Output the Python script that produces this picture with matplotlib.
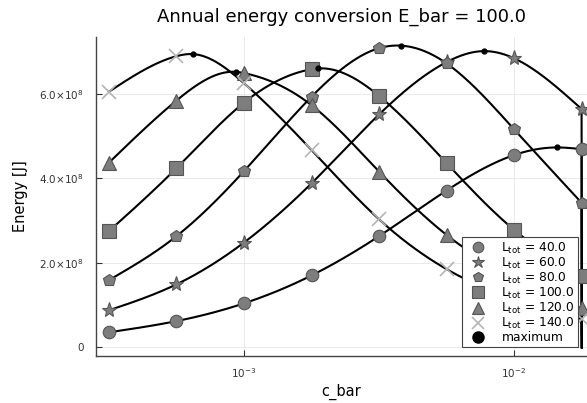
import numpy as np
import matplotlib
matplotlib.use("Agg")
import matplotlib.pyplot as plt
from matplotlib.lines import Line2D

# c_bar grid where markers sit
c_bar = [3.162e-4, 5.623e-4, 1.0e-3, 1.778e-3, 3.162e-3, 5.623e-3, 1.0e-2, 1.778e-2]
# energy cuts to zero just past the last grid point
cutoff_c = 1.782e-2

L_tot = [40.0, 60.0, 80.0, 100.0, 120.0, 140.0]

# energy in units of 1e8 J
E_40 = [0.355, 0.62, 1.04, 1.70, 2.63, 3.71, 4.55, 4.69]
E_60 = [0.876, 1.49, 2.48, 3.88, 5.51, 6.75, 6.84, 5.64]
E_80 = [1.59, 2.63, 4.17, 5.93, 7.08, 6.72, 5.16, 3.42]
E_100 = [2.75, 4.24, 5.79, 6.58, 5.95, 4.36, 2.78, 1.69]
E_120 = [4.37, 5.84, 6.49, 5.73, 4.16, 2.66, 1.65, 0.92]
E_140 = [6.05, 6.89, 6.25, 4.67, 3.03, 1.85, 1.14, 0.67]

# maxima of each curve
max_c = [1.439e-2, 7.74e-3, 3.80e-3, 1.884e-3, 9.31e-4, 6.46e-4]
max_E = [4.73, 7.01, 7.14, 6.60, 6.52, 6.94]

series = [E_40, E_60, E_80, E_100, E_120, E_140]
markers = ["o", "*", "p", "s", "^", "x"]
msizes = [9, 11, 9, 9.5, 9.5, 10]


def spline(xs, ys, n=400):
    # natural cubic spline through the read points, used for the line only
    x = np.asarray(xs, float)
    y = np.asarray(ys, float)
    h = np.diff(x)
    k = len(x)
    A = np.zeros((k, k))
    b = np.zeros(k)
    A[0, 0] = A[-1, -1] = 1
    for i in range(1, k - 1):
        A[i, i - 1] = h[i - 1]
        A[i, i] = 2 * (h[i - 1] + h[i])
        A[i, i + 1] = h[i]
        b[i] = 6 * ((y[i + 1] - y[i]) / h[i] - (y[i] - y[i - 1]) / h[i - 1])
    M = np.linalg.solve(A, b)
    xx = np.linspace(x[0], x[-1], n)
    j = np.clip(np.searchsorted(x, xx) - 1, 0, k - 2)
    t1 = x[j + 1] - xx
    t0 = xx - x[j]
    yy = (M[j] * t1 ** 3 + M[j + 1] * t0 ** 3) / (6 * h[j]) \
        + (y[j] / h[j] - M[j] * h[j] / 6) * t1 \
        + (y[j + 1] / h[j] - M[j + 1] * h[j] / 6) * t0
    return xx, yy


fig = plt.figure(figsize=(5.87, 4.03), dpi=100)
ax = fig.add_axes([96 / 587, 47 / 403, 491 / 587, 319 / 403])

for E, mc, me in zip(series, max_c, max_E):
    pts = sorted(list(zip(np.log10(c_bar), E)) + [(np.log10(mc), me)])
    lx, ly = spline([p[0] for p in pts], [p[1] for p in pts])
    xs = np.concatenate([10 ** lx, [cutoff_c]])
    ys = np.concatenate([ly, [0.0]]) * 1e8
    ax.plot(xs, ys, color="black", lw=1.5, zorder=2)

handles = []
for E, L, m, ms in zip(series, L_tot, markers, msizes):
    if m == "x":
        kw = dict(color="#b4b4b4", mew=1.2)
    else:
        kw = dict(markerfacecolor="#7d7d7d", markeredgecolor="#555555", mew=0.8)
    ax.plot(c_bar, np.array(E) * 1e8, ls="none", marker=m, ms=ms, zorder=3, **kw)
    handles.append(Line2D([], [], ls="none", marker=m, ms=ms * 0.85, **kw,
                          label=r"$\mathregular{L_{tot}}$ = %.1f" % L))

ax.plot(max_c, np.array(max_E) * 1e8, ls="none", marker="o", ms=3.5,
        color="black", zorder=4)
handles.append(Line2D([], [], ls="none", marker="o", ms=8, color="black",
                      label="maximum"))

ax.set_xscale("log")
ax.set_xlim(10 ** -3.548, 10 ** -1.73)
ax.set_ylim(-0.206e8, 7.344e8)

ax.set_yticks([0, 2e8, 4e8, 6e8])
ax.set_yticklabels(["0", r"$2.0{\times}10^{8}$", r"$4.0{\times}10^{8}$",
                    r"$6.0{\times}10^{8}$"])
ax.set_xticks([1e-3, 1e-2])
ax.xaxis.set_minor_locator(matplotlib.ticker.NullLocator())

ax.tick_params(direction="in", length=4, width=0.8, colors="#333333",
               labelsize=7.5)
ax.tick_params(axis="y", pad=9)
ax.tick_params(axis="x", pad=7)
ax.grid(True, color="#e6e6e6", lw=0.6)
ax.set_axisbelow(True)
for s in ["top", "right"]:
    ax.spines[s].set_visible(False)
for s in ["left", "bottom"]:
    ax.spines[s].set_color("#444444")
    ax.spines[s].set_linewidth(1.0)

ax.set_title("Annual energy conversion E_bar = 100.0", fontsize=13, pad=11)
ax.set_xlabel("c_bar", fontsize=10.5, labelpad=3)
ax.set_ylabel("Energy [J]", fontsize=10.5, labelpad=8)

leg = ax.legend(handles=handles, loc="lower right", fontsize=8.8,
                fancybox=False, framealpha=1, edgecolor="#444444",
                borderpad=0.25, labelspacing=0.0, handletextpad=0.8,
                handlelength=2.2, borderaxespad=0,
                bbox_to_anchor=(0.9817, 0.028))
leg.get_frame().set_linewidth(0.8)

fig.savefig("out.png", dpi=100)
